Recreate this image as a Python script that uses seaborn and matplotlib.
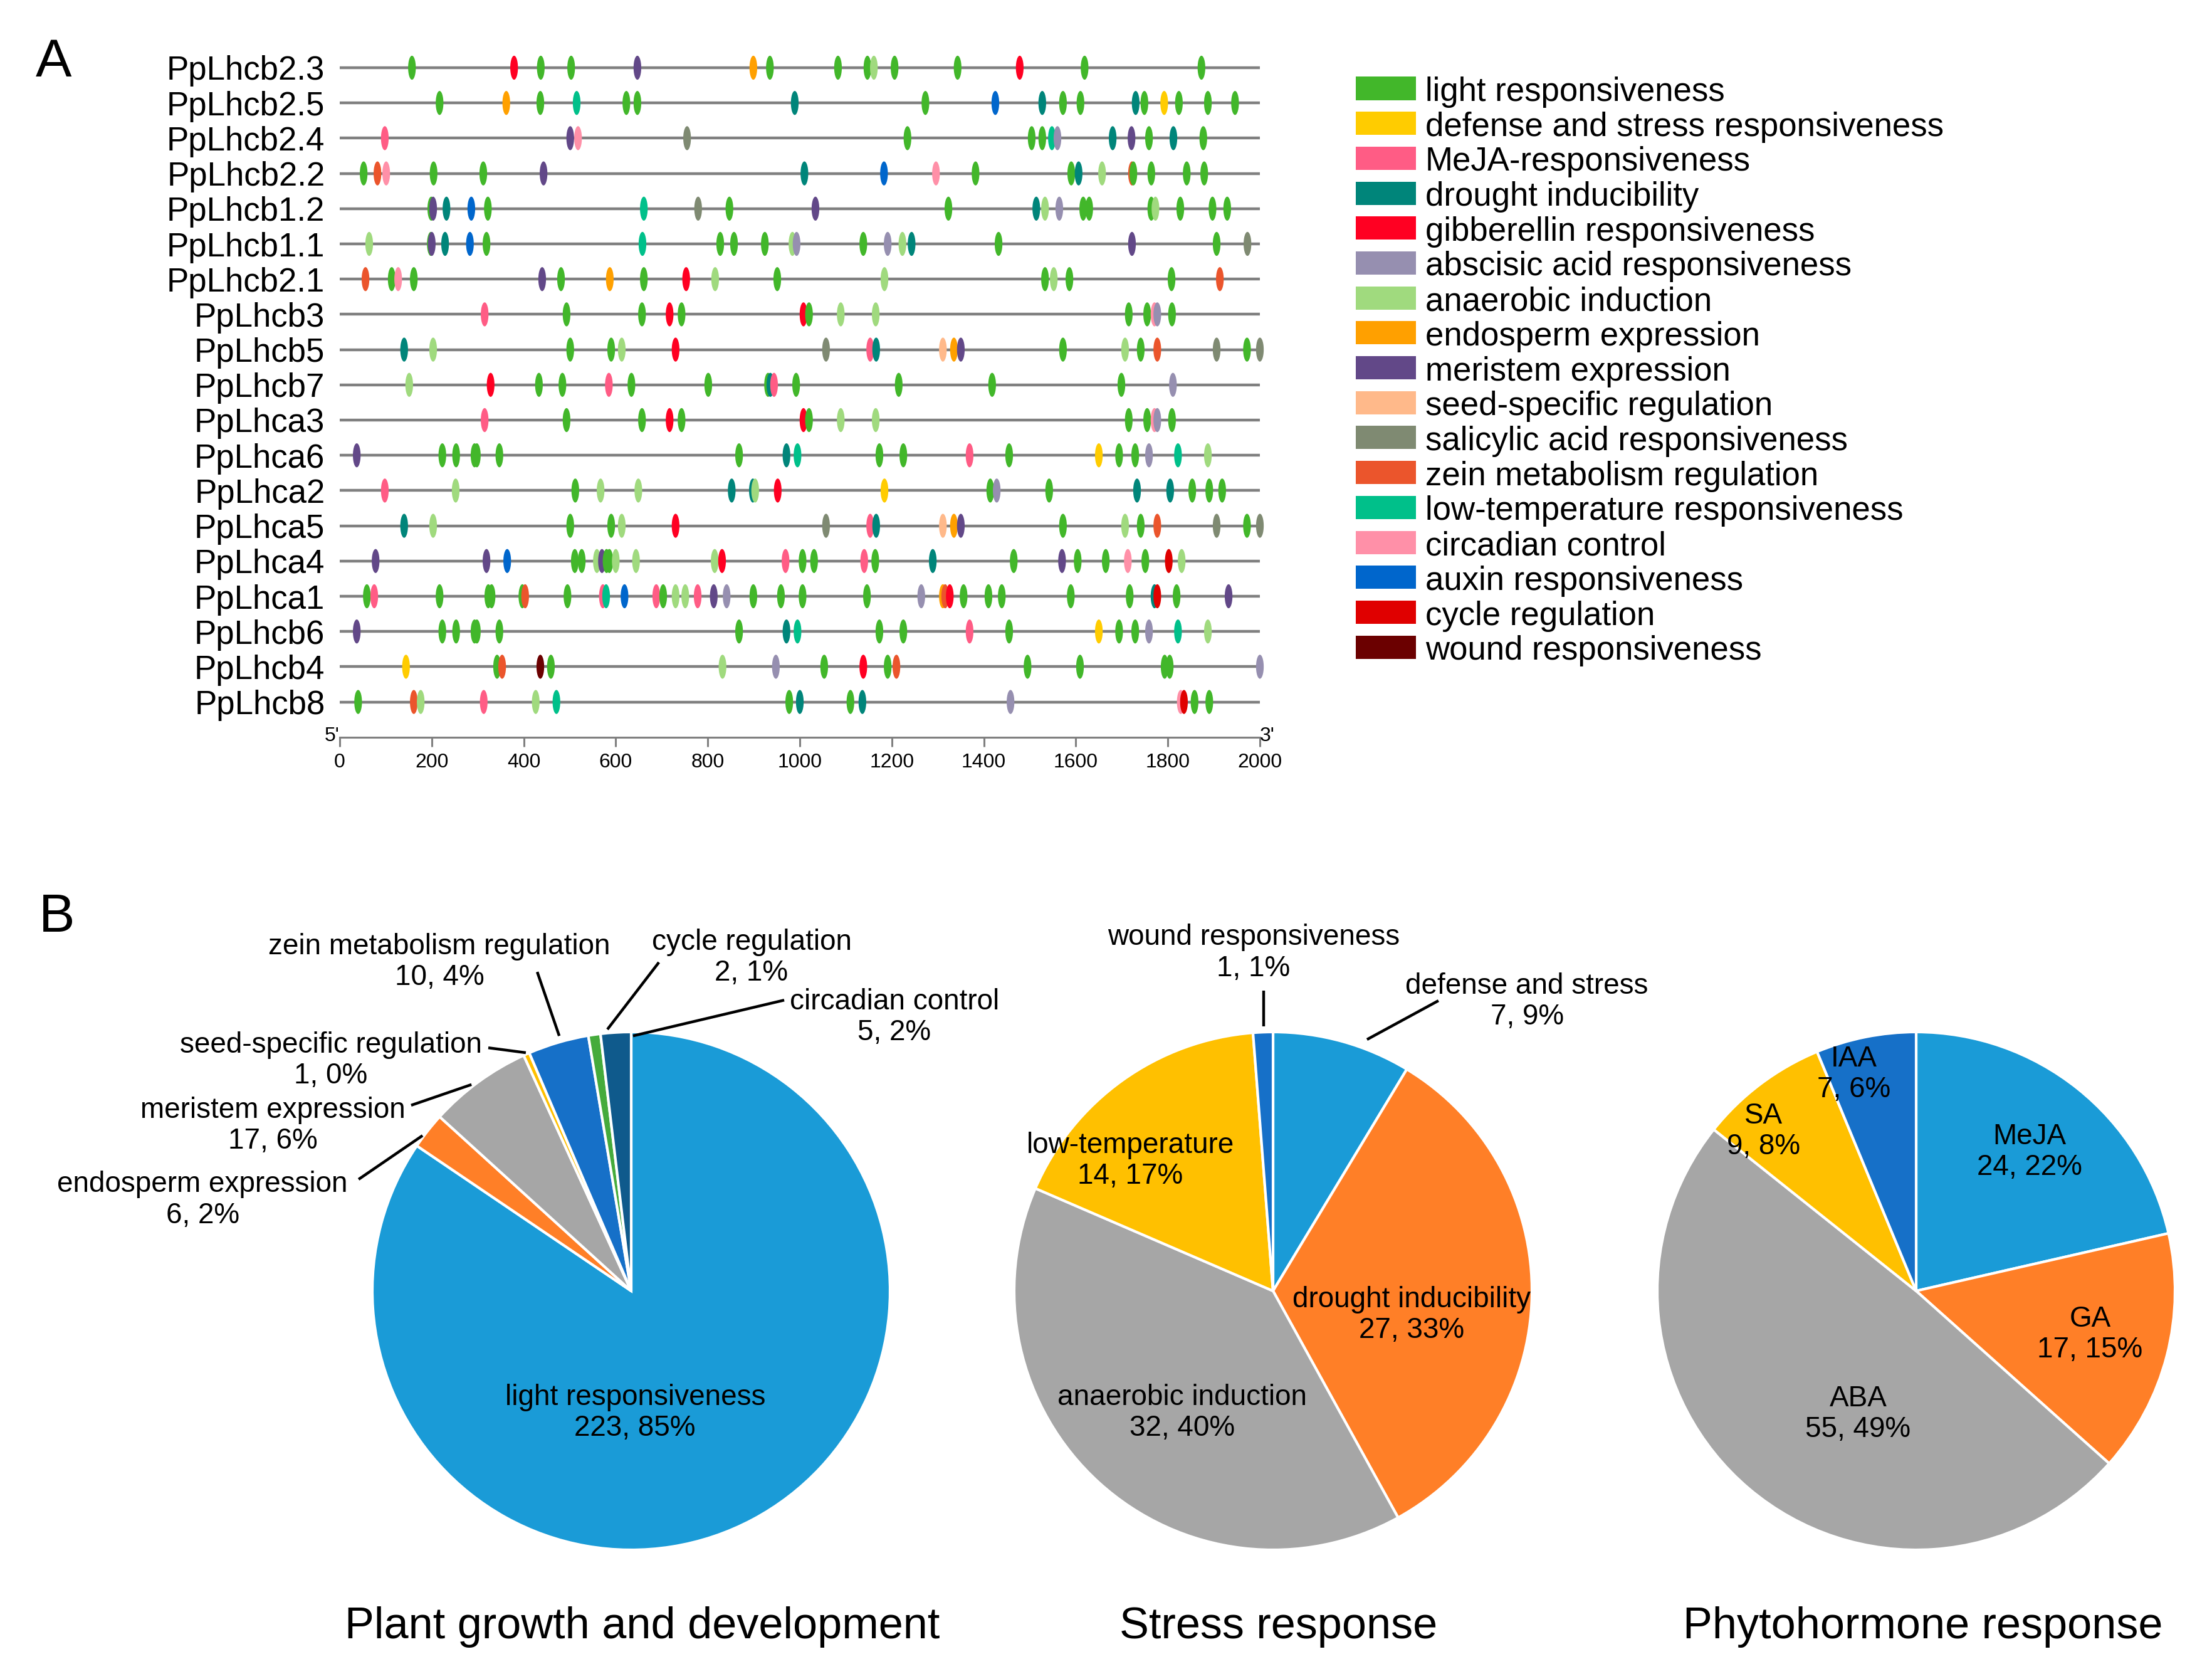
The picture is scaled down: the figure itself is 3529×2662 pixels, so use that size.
import numpy as np
import pandas as pd
import matplotlib
matplotlib.use("Agg")
import matplotlib.pyplot as plt
import seaborn as sns
from matplotlib.path import Path
from matplotlib.patches import Rectangle

# ---------------- DATA: panel A ----------------
genes = ["PpLhcb2.3", "PpLhcb2.5", "PpLhcb2.4", "PpLhcb2.2", "PpLhcb1.2", "PpLhcb1.1",
         "PpLhcb2.1", "PpLhcb3", "PpLhcb5", "PpLhcb7", "PpLhca3", "PpLhca6", "PpLhca2",
         "PpLhca5", "PpLhca4", "PpLhca1", "PpLhcb6", "PpLhcb4", "PpLhcb8"]

cat_names = ["light responsiveness", "defense and stress responsiveness", "MeJA-responsiveness",
             "drought inducibility", "gibberellin responsiveness", "abscisic acid responsiveness",
             "anaerobic induction", "endosperm expression", "meristem expression",
             "seed-specific regulation", "salicylic acid responsiveness", "zein metabolism regulation",
             "low-temperature responsiveness", "circadian control", "auxin responsiveness",
             "cycle regulation", "wound responsiveness"]
cat_codes = ["L", "DS", "MJ", "DR", "GA", "ABA", "AN", "EN", "ME", "SS", "SA", "ZE", "LT", "CC", "AX", "CY", "WO"]
cat_colors = ["#42b72a", "#ffcc00", "#ff5c85", "#00857a", "#ff0022", "#968fb0", "#a0da7e", "#ffa000",
              "#624888", "#ffb98a", "#7f8a72", "#eb552c", "#00c08a", "#ff90a8", "#0066cc", "#e00000", "#6b0000"]

pos_Lhcb2_3 = [157, 379, 437, 503, 647, 899, 935, 1083, 1147, 1161, 1206, 1343, 1478, 1619, 1873]
cat_Lhcb2_3 = ["L", "GA", "L", "L", "ME", "EN", "L", "L", "L", "AN", "L", "L", "GA", "L", "L"]
pos_Lhcb2_5 = [217, 362, 436, 515, 623, 647, 989, 1273, 1425, 1527, 1572, 1610, 1730, 1749, 1792, 1824, 1887, 1946]
cat_Lhcb2_5 = ["L", "EN", "L", "LT", "L", "L", "DR", "L", "AX", "DR", "L", "L", "DR", "L", "DS", "L", "L", "L"]
pos_Lhcb2_4 = [98, 501, 518, 755, 1234, 1504, 1527, 1548, 1560, 1680, 1721, 1759, 1812, 1877]
cat_Lhcb2_4 = ["MJ", "ME", "CC", "SA", "L", "L", "L", "LT", "ABA", "DR", "ME", "L", "DR", "L"]
pos_Lhcb2_2 = [52, 82, 101, 204, 312, 443, 1010, 1183, 1296, 1382, 1590, 1606, 1657, 1722, 1725, 1764, 1841, 1879]
cat_Lhcb2_2 = ["L", "ZE", "CC", "L", "L", "ME", "DR", "AX", "CC", "L", "L", "DR", "AN", "ZE", "L", "L", "L", "L"]
pos_Lhcb1_2 = [199, 203, 232, 286, 322, 661, 779, 847, 1034, 1323, 1514, 1533, 1564, 1616, 1629, 1764, 1773, 1827, 1897, 1929]
cat_Lhcb1_2 = ["L", "ME", "DR", "AX", "L", "LT", "SA", "L", "ME", "L", "DR", "AN", "ABA", "L", "L", "L", "AN", "L", "L", "L"]
pos_Lhcb1_1 = [64, 198, 200, 229, 283, 319, 658, 827, 857, 924, 984, 993, 1138, 1191, 1223, 1243, 1432, 1722, 1906, 1973]
cat_Lhcb1_1 = ["AN", "L", "ME", "DR", "AX", "L", "LT", "L", "L", "L", "AN", "ABA", "L", "ABA", "AN", "DR", "L", "ME", "L", "SA"]
pos_Lhcb2_1 = [56, 113, 127, 161, 440, 481, 587, 661, 753, 816, 951, 1184, 1533, 1552, 1586, 1808, 1913]
cat_Lhcb2_1 = ["ZE", "L", "CC", "L", "ME", "L", "EN", "L", "GA", "AN", "L", "AN", "L", "AN", "L", "L", "ZE"]
pos_Lhcb3 = [315, 493, 657, 717, 743, 1008, 1020, 1089, 1165, 1715, 1755, 1771, 1777, 1809]
cat_Lhcb3 = ["MJ", "L", "L", "GA", "L", "GA", "L", "AN", "AN", "L", "L", "CC", "ABA", "L"]
pos_Lhcb5 = [140, 203, 501, 590, 613, 730, 1057, 1153, 1166, 1311, 1335, 1350, 1572, 1707, 1741, 1777, 1906, 1972, 2000]
cat_Lhcb5 = ["DR", "AN", "L", "L", "AN", "GA", "SA", "MJ", "DR", "SS", "EN", "ME", "L", "AN", "L", "ZE", "SA", "L", "SA"]
pos_Lhcb7 = [151, 328, 433, 484, 585, 634, 801, 931, 936, 944, 992, 1215, 1418, 1699, 1811]
cat_Lhcb7 = ["AN", "GA", "L", "L", "MJ", "L", "L", "L", "DR", "MJ", "L", "L", "L", "L", "ABA"]
pos_Lhca3 = [315, 493, 657, 717, 743, 1008, 1020, 1089, 1165, 1715, 1755, 1771, 1777, 1809]
cat_Lhca3 = ["MJ", "L", "L", "GA", "L", "GA", "L", "AN", "AN", "L", "L", "CC", "ABA", "L"]
pos_Lhca6 = [37, 223, 253, 293, 298, 347, 868, 971, 995, 1173, 1225, 1369, 1455, 1650, 1694, 1729, 1759, 1822, 1887]
cat_Lhca6 = ["ME", "L", "L", "L", "L", "L", "L", "DR", "LT", "L", "L", "MJ", "L", "DS", "L", "L", "ABA", "LT", "AN"]
pos_Lhca2 = [98, 252, 512, 567, 649, 852, 898, 903, 952, 1184, 1414, 1428, 1542, 1733, 1805, 1853, 1890, 1918]
cat_Lhca2 = ["MJ", "AN", "L", "AN", "AN", "DR", "DR", "AN", "GA", "DS", "L", "ABA", "L", "DR", "DR", "L", "L", "L"]
pos_Lhca5 = [140, 203, 501, 590, 613, 730, 1057, 1153, 1166, 1311, 1335, 1350, 1572, 1707, 1741, 1777, 1906, 1972, 2000]
cat_Lhca5 = ["DR", "AN", "L", "L", "AN", "GA", "SA", "MJ", "DR", "SS", "EN", "ME", "L", "AN", "L", "ZE", "SA", "L", "SA"]
pos_Lhca4 = [78, 319, 364, 511, 526, 559, 570, 580, 586, 600, 644, 815, 831, 969, 1006, 1031, 1140, 1164, 1289,
             1465, 1570, 1604, 1665, 1713, 1751, 1802, 1830]
cat_Lhca4 = ["ME", "ME", "AX", "L", "L", "AN", "ME", "L", "L", "AN", "AN", "AN", "GA", "MJ", "L", "L", "MJ", "L", "DR",
             "L", "ME", "L", "L", "CC", "L", "CY", "AN"]
pos_Lhca1 = [59, 75, 217, 323, 330, 397, 403, 495, 572, 579, 619, 688, 703, 730, 751, 778, 813, 841, 899, 959, 1006,
             1146, 1264, 1311, 1316, 1326, 1356, 1410, 1439, 1589, 1717, 1771, 1777, 1819, 1932]
cat_Lhca1 = ["L", "MJ", "L", "L", "L", "L", "ZE", "L", "MJ", "LT", "AX", "MJ", "L", "AN", "AN", "MJ", "ME", "ABA", "L", "L", "L",
             "L", "ABA", "EN", "ZE", "GA", "L", "L", "L", "L", "L", "DR", "CY", "L", "ME"]
pos_Lhcb6 = [37, 223, 253, 293, 298, 347, 868, 971, 995, 1173, 1225, 1369, 1455, 1650, 1694, 1729, 1759, 1822, 1887]
cat_Lhcb6 = ["ME", "L", "L", "L", "L", "L", "L", "DR", "LT", "L", "L", "MJ", "L", "DS", "L", "L", "ABA", "LT", "AN"]
pos_Lhcb4 = [144, 342, 353, 436, 459, 832, 948, 1053, 1138, 1191, 1210, 1495, 1609, 1793, 1804, 2000]
cat_Lhcb4 = ["DS", "L", "ZE", "WO", "L", "AN", "ABA", "L", "GA", "L", "ZE", "L", "L", "L", "L", "ABA"]
pos_Lhcb8 = [40, 161, 176, 313, 426, 471, 977, 1000, 1110, 1136, 1458, 1828, 1835, 1858, 1890]
cat_Lhcb8 = ["L", "ZE", "AN", "MJ", "AN", "LT", "L", "DR", "L", "DR", "ABA", "CC", "CY", "L", "L"]

all_pos = [pos_Lhcb2_3, pos_Lhcb2_5, pos_Lhcb2_4, pos_Lhcb2_2, pos_Lhcb1_2, pos_Lhcb1_1, pos_Lhcb2_1, pos_Lhcb3,
           pos_Lhcb5, pos_Lhcb7, pos_Lhca3, pos_Lhca6, pos_Lhca2, pos_Lhca5, pos_Lhca4, pos_Lhca1, pos_Lhcb6,
           pos_Lhcb4, pos_Lhcb8]
all_cat = [cat_Lhcb2_3, cat_Lhcb2_5, cat_Lhcb2_4, cat_Lhcb2_2, cat_Lhcb1_2, cat_Lhcb1_1, cat_Lhcb2_1, cat_Lhcb3,
           cat_Lhcb5, cat_Lhcb7, cat_Lhca3, cat_Lhca6, cat_Lhca2, cat_Lhca5, cat_Lhca4, cat_Lhca1, cat_Lhcb6,
           cat_Lhcb4, cat_Lhcb8]
x_ticks = [0, 200, 400, 600, 800, 1000, 1200, 1400, 1600, 1800, 2000]

# ---------------- DATA: panel B ----------------
pg_names = ["light responsiveness", "endosperm expression", "meristem expression", "seed-specific regulation",
            "zein metabolism regulation", "cycle regulation", "circadian control"]
pg_counts = [223, 6, 17, 1, 10, 2, 5]
pg_pct = ["85%", "2%", "6%", "0%", "4%", "1%", "2%"]

st_names = ["defense and stress", "drought inducibility", "anaerobic induction", "low-temperature",
            "wound responsiveness"]
st_counts = [7, 27, 32, 14, 1]
st_pct = ["9%", "33%", "40%", "17%", "1%"]

ph_names = ["MeJA", "GA", "ABA", "SA", "IAA"]
ph_counts = [24, 17, 55, 9, 7]
ph_pct = ["22%", "15%", "49%", "8%", "6%"]

pie_titles = ["Plant growth and development", "Stress response", "Phytohormone response"]
pie_palette = ["#1a9bd7", "#ff7f27", "#a6a6a6", "#ffc000", "#1670c8", "#45ab3c", "#0f5a8c"]

# ---------------- figure ----------------
sns.set_theme(style="white")
plt.rcParams["font.family"] = ["Liberation Sans", "DejaVu Sans"]
plt.rcParams["text.color"] = "black"
plt.rcParams["axes.labelcolor"] = "black"
plt.rcParams["xtick.color"] = "black"
plt.rcParams["ytick.color"] = "black"

W, H = 3530, 2662
DPI = 200
fig = plt.figure(figsize=(W / DPI, H / DPI), dpi=DPI)


def fx(x):
    return x / W


def fy(y):
    return 1 - y / H


# ---- Panel A ----
rows = []
for gi, (ps, cs) in enumerate(zip(all_pos, all_cat)):
    for p, c in zip(ps, cs):
        rows.append({"gene": genes[gi], "row": gi, "pos": p,
                     "category": cat_names[cat_codes.index(c)]})
df = pd.DataFrame(rows)

row_px0, row_px_step = 108, 56.2
ruler_row = 19.0
top_row = -(row_px0 - 68) / row_px_step
axA = fig.add_axes([fx(542), fy(row_px0 + ruler_row * row_px_step), (2010 - 542) / W,
                    (ruler_row - top_row) * row_px_step / H])

axA.hlines(range(len(genes)), 0, 2000, color="#808080", lw=1.6, zorder=1)

t = np.linspace(0, 2 * np.pi, 64)
ellipse = Path(np.column_stack([0.32 * np.cos(t), np.sin(t)]), closed=True)
palette = dict(zip(cat_names, cat_colors))
sns.scatterplot(data=df, x="pos", y="row", hue="category", hue_order=cat_names, palette=palette,
                marker=ellipse, s=190, linewidth=0, legend=False, ax=axA, zorder=3, clip_on=False)

axA.set_xlim(0, 2000)
axA.set_ylim(ruler_row, top_row)
axA.set_xticks(x_ticks)
axA.set_xticklabels([str(v) for v in x_ticks])
axA.set_yticks(range(len(genes)))
axA.set_yticklabels(genes, fontsize=19)
axA.set_xlabel("")
axA.set_ylabel("")
for side in ["top", "left", "right"]:
    axA.spines[side].set_visible(False)
axA.spines["bottom"].set_color("#808080")
axA.spines["bottom"].set_linewidth(1.1)
axA.tick_params(axis="y", length=0, pad=8.5, labelsize=19, labelcolor="black")
axA.tick_params(axis="x", bottom=True, direction="out", length=5.4, width=1.1, color="#808080",
                labelsize=11.5, pad=3.5, labelcolor="black")
axA.text(0, ruler_row + 0.11, "5'", ha="right", va="baseline", fontsize=11.5, color="black")
axA.text(2000, ruler_row + 0.11, "3'", ha="left", va="baseline", fontsize=11.5, color="black")

# legend
for i, (name, col) in enumerate(zip(cat_names, cat_colors)):
    yc = 141 + i * 55.7
    fig.patches.append(Rectangle((fx(2163), fy(yc + 18.5)), 96 / W, 37 / H,
                                 transform=fig.transFigure, facecolor=col, edgecolor="none"))
    fig.text(fx(2274), fy(yc + 20), name, ha="left", va="baseline", fontsize=19, color="black")

fig.text(fx(57), fy(122), "A", fontsize=31, va="baseline", ha="left", color="black")
fig.text(fx(62), fy(1486), "B", fontsize=31, va="baseline", ha="left", color="black")

# ---- Panel B ----
R = 413
centers = [(1007, 2059), (2031, 2059), (3057, 2059)]
title_x = [1025, 2040, 3068]

pg_lab_xy = [(0.015, -0.47), (-1.656, 0.351), (-1.385, 0.637), (-1.16, 0.889), (-0.741, 1.271),
             (0.465, 1.288), (1.017, 1.056)]
pg_leaders = [None, ((-1.053, 0.431), (-0.806, 0.600)), ((-0.850, 0.717), (-0.617, 0.797)),
              ((-0.552, 0.939), (-0.407, 0.920)), ((-0.363, 1.232), (-0.278, 0.985)),
              ((-0.092, 1.010), (0.107, 1.269)), ((0.007, 0.985), (0.591, 1.123))]
st_lab_xy = [(0.981, 1.117), (0.536, -0.093), (-0.35, -0.47), (-0.552, 0.503), (-0.075, 1.305)]
st_leaders = [((0.363, 0.971), (0.639, 1.121)), None, None, None, ((-0.036, 1.022), (-0.036, 1.160))]
ph_lab_xy = [(0.437, 0.536), (0.672, -0.169), (-0.224, -0.475), (-0.59, 0.617), (-0.24, 0.836)]
ph_leaders = [None] * 5

pies = [(pg_names, pg_counts, pg_pct, pg_lab_xy, pg_leaders),
        (st_names, st_counts, st_pct, st_lab_xy, st_leaders),
        (ph_names, ph_counts, ph_pct, ph_lab_xy, ph_leaders)]

ext = 1.25
for k, ((names, counts, pcts, lab_xy, leaders), (cx, cy)) in enumerate(zip(pies, centers)):
    half = R * ext
    ax = fig.add_axes([fx(cx - half), fy(cy + half), 2 * half / W, 2 * half / H])
    ax.pie(counts, colors=pie_palette[:len(counts)], startangle=90, counterclock=False, radius=1,
           wedgeprops=dict(edgecolor="white", linewidth=1.5))
    ax.set_xlim(-ext, ext)
    ax.set_ylim(-ext, ext)
    ax.set_aspect("equal")
    ax.axis("off")
    for name, cnt, pc, (lx, ly), ld in zip(names, counts, pcts, lab_xy, leaders):
        ax.text(lx, ly, f"{name}\n{cnt}, {pc}", ha="center", va="center", fontsize=16.5,
                linespacing=1.15, clip_on=False, color="black")
        if ld is not None:
            (x0, y0), (x1, y1) = ld
            ax.plot([x0, x1], [y0, y1], color="black", lw=1.6, clip_on=False,
                    solid_capstyle="butt")
    fig.text(fx(title_x[k]), fy(2613), pie_titles[k], ha="center", va="baseline", fontsize=25.3,
             color="black")

fig.savefig("out.png", dpi=DPI, facecolor="white")
